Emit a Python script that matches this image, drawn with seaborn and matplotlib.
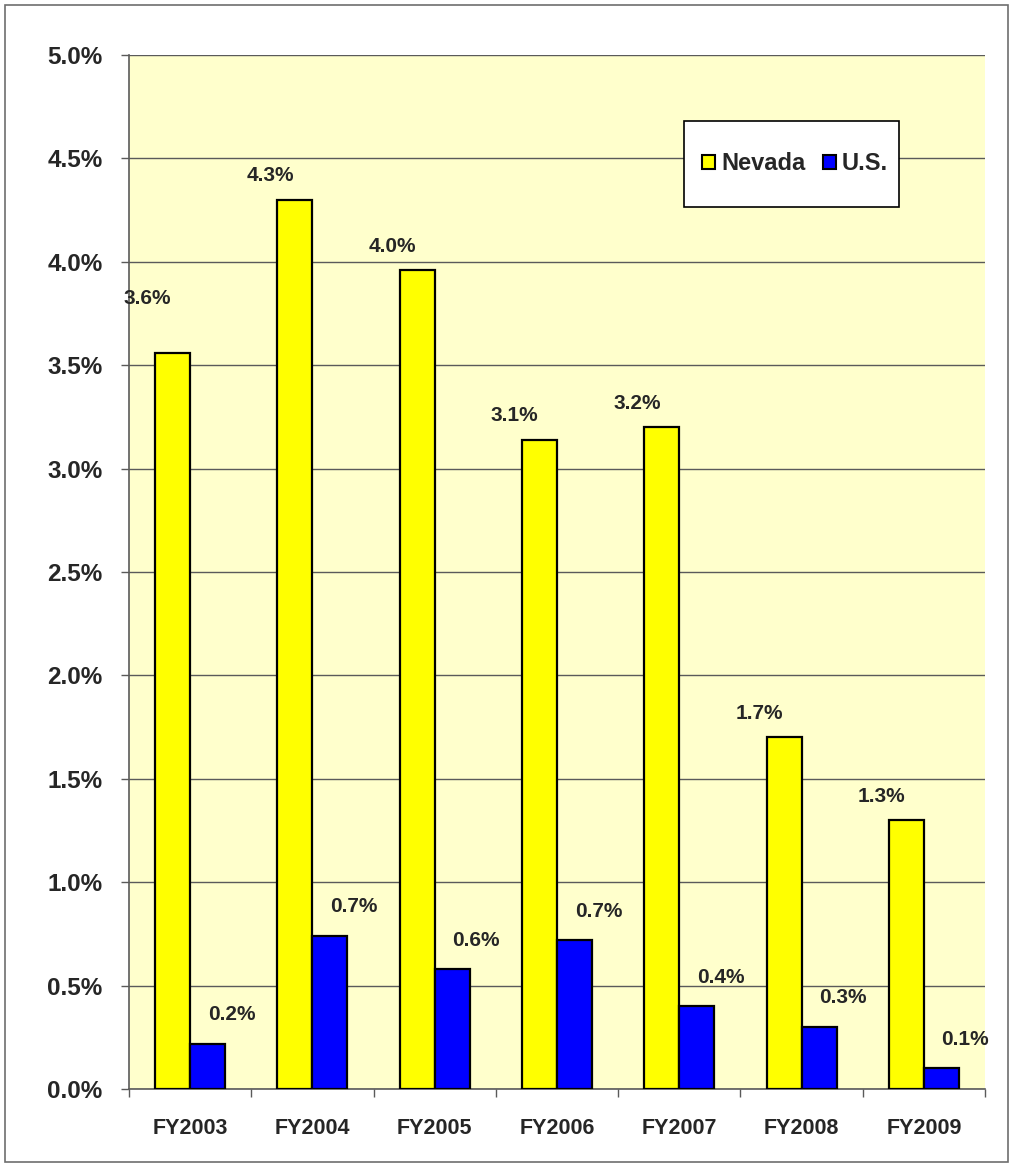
import matplotlib
matplotlib.use('Agg')
import matplotlib.pyplot as plt
from matplotlib.patches import Rectangle
import seaborn as sns
import pandas as pd
import numpy as np

years = ['FY2003', 'FY2004', 'FY2005', 'FY2006', 'FY2007', 'FY2008', 'FY2009']
nevada = [3.56, 4.30, 3.96, 3.14, 3.20, 1.70, 1.30]
us = [0.22, 0.74, 0.58, 0.72, 0.40, 0.30, 0.10]
series = ['Nevada', 'U.S.']
colors = ['#FFFF00', '#0000FF']

df = pd.DataFrame({
    'year': years * 2,
    'value': nevada + us,
    'series': ['Nevada'] * len(years) + ['U.S.'] * len(years),
})

sns.set_style('white')
plt.rcParams['font.family'] = ['Liberation Sans', 'DejaVu Sans']
plt.rcParams['font.weight'] = 'bold'

fig = plt.figure(figsize=(10.13, 11.67), dpi=100)
ax = fig.add_axes([129 / 1013, 1 - 1089 / 1167, 856 / 1013, 1034 / 1167])
ax.set_facecolor('#FFFFCC')

sns.barplot(data=df, x='year', y='value', hue='series', palette=colors,
            width=0.573, edgecolor='black', linewidth=1.6, saturation=1,
            ax=ax, zorder=3)

ax.set_ylim(0, 5.0)
ax.set_xlim(-0.5, len(years) - 0.5)
yt = np.arange(0, 5.01, 0.5)
ax.set_yticks(yt)
ax.set_yticklabels(['%.1f%%' % v for v in yt], fontsize=17.5, fontweight='bold')
ax.yaxis.grid(True, color='#5a5a5a', linewidth=1.0, zorder=0)
ax.set_axisbelow(True)
ax.tick_params(axis='y', length=6, width=1, color='#5a5a5a', pad=13, left=True)

ax.set_xticks(range(len(years)))
ax.set_xticklabels(years, fontsize=15.5, fontweight='bold')
ax.set_xticks(np.arange(-0.5, len(years)), minor=True)
ax.tick_params(axis='x', which='major', length=0, pad=21)
ax.tick_params(axis='x', which='minor', length=6, width=1, color='#5a5a5a', bottom=True)
ax.set_xlabel('')
ax.set_ylabel('')

for side in ['top', 'right']:
    ax.spines[side].set_visible(False)
for side in ['left', 'bottom']:
    ax.spines[side].set_color('#5a5a5a')
    ax.spines[side].set_linewidth(1.2)

# data labels
for i, v in enumerate(nevada):
    dy = 54 if i == 0 else 24
    ax.annotate('%.1f%%' % v, xy=(i - 0.143, v), xytext=(-25, dy),
                textcoords='offset pixels', ha='center', va='center',
                fontsize=15, fontweight='bold')
for i, v in enumerate(us):
    ax.annotate('%.1f%%' % v, xy=(i + 0.143, v), xytext=(24, 29),
                textcoords='offset pixels', ha='center', va='center',
                fontsize=15, fontweight='bold')

# legend: white box drawn separately, entries on top
ax.legend_.remove()
ax.add_patch(Rectangle((0.6484, 0.853), 0.2512, 0.0832, transform=ax.transAxes,
                       facecolor='white', edgecolor='black', linewidth=1.2, zorder=5))
handles = [Rectangle((0, 0), 1, 1, facecolor=c, edgecolor='black', linewidth=1.5) for c in colors]
leg = ax.legend(handles, series, loc='center', bbox_to_anchor=(0.778, 0.8946),
                ncol=2, frameon=False, borderpad=0.2,
                handlelength=0.55, handleheight=0.55,
                handletextpad=0.25, columnspacing=0.75,
                prop={'weight': 'bold', 'size': 17})
leg.set_zorder(6)

# outer chart border
fig.patches.append(Rectangle((5 / 1013, 5 / 1167), 1003 / 1013, 1157 / 1167,
                             transform=fig.transFigure, fill=False,
                             edgecolor='#6e6e6e', linewidth=1.2))

fig.savefig('out.png', dpi=100)
